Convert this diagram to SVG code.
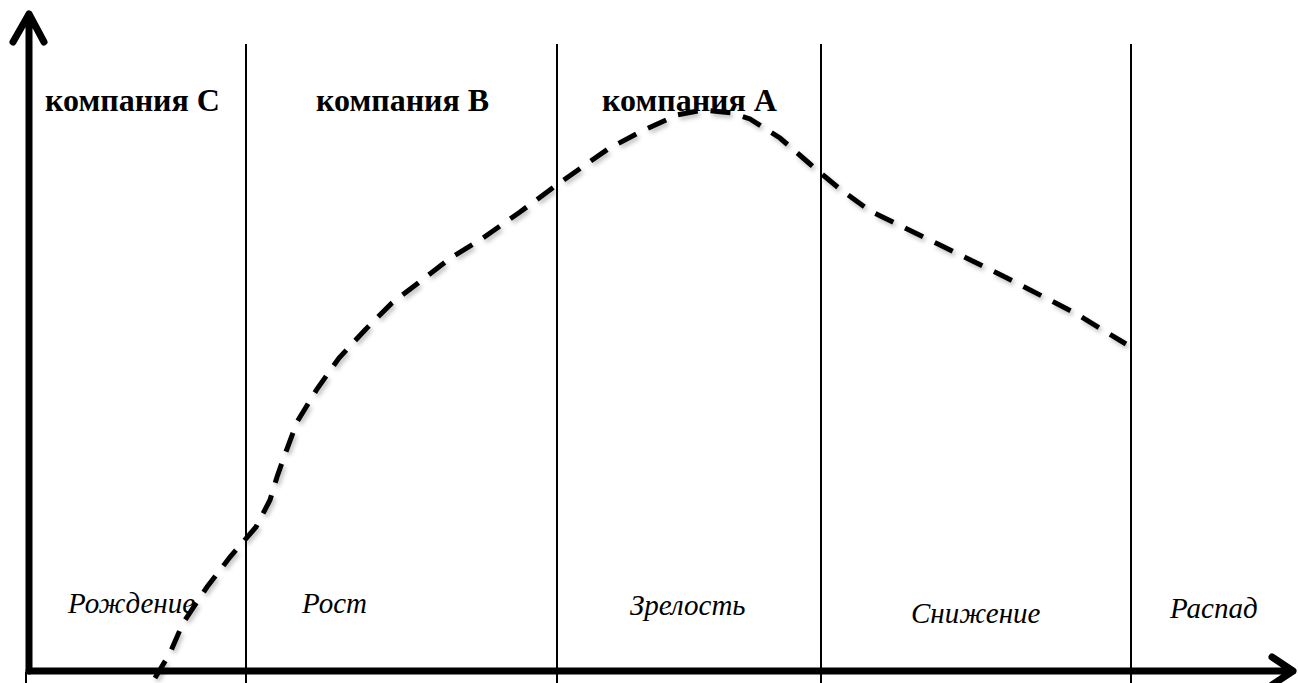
<svg xmlns="http://www.w3.org/2000/svg" width="1298" height="683" viewBox="0 0 1298 683">
<style>
.grid{stroke:#000;stroke-width:2;fill:none}
.axis{stroke:#000;stroke-width:7;fill:none;stroke-linecap:round;stroke-linejoin:round}
.head{font-family:"Liberation Serif","Times New Roman",serif;font-weight:bold;font-size:32px;fill:#000}
.stage{font-family:"Liberation Serif","Times New Roman",serif;font-style:italic;font-size:29px;fill:#000}
.curve{stroke:#000;stroke-width:5;fill:none;stroke-dasharray:20 13}
</style>
<defs>
<filter id="sh" x="-5%" y="-5%" width="110%" height="110%">
<feDropShadow dx="2" dy="3" stdDeviation="2" flood-color="#000" flood-opacity="0.25"/>
</filter>
</defs>
<rect width="1298" height="683" fill="#fff"/>
<g id="grid">
<line class="grid" x1="246" y1="44" x2="246" y2="683"/>
<line class="grid" x1="557" y1="44" x2="557" y2="683"/>
<line class="grid" x1="821" y1="44" x2="821" y2="683"/>
<line class="grid" x1="1131" y1="44" x2="1131" y2="683"/>
<line class="grid" x1="26" y1="672" x2="26" y2="683"/>
</g>
<g id="axes">
<path class="axis" d="M29,671 V14 M13,42 L29,14 L44,42"/>
<path class="axis" d="M29,671 H1293 M1272,657 L1293,671 L1272,685"/>
</g>
<g id="connectors">
<path class="curve" filter="url(#sh)" d="M155,678 L170,653 L183,623 L207,587 L230,557 L256,527 L270,500 L277,477 L284,457 L297,422 L317,389 L339,358 L365,330 L392,303 L422,280 L452,257 L480,240 L520,212 L558,184 L608,149 L640,132 L677,115 L703,110 L732,113 L750,119 L780,138 L810,164 L823,175 L840,189 L870,211 L938,244 L1007,278 L1075,313 L1126,344"/>
</g>
<g id="labels">
<text class="head" x="45" y="111">компания С</text>
<text class="head" x="316" y="111">компания В</text>
<text class="head" x="602" y="111">компания А</text>
<text class="stage" x="68" y="613">Рождение</text>
<text class="stage" x="302" y="613">Рост</text>
<text class="stage" x="630" y="615">Зрелость</text>
<text class="stage" x="911" y="623">Снижение</text>
<text class="stage" x="1170" y="618">Распад</text>
</g>
</svg>
